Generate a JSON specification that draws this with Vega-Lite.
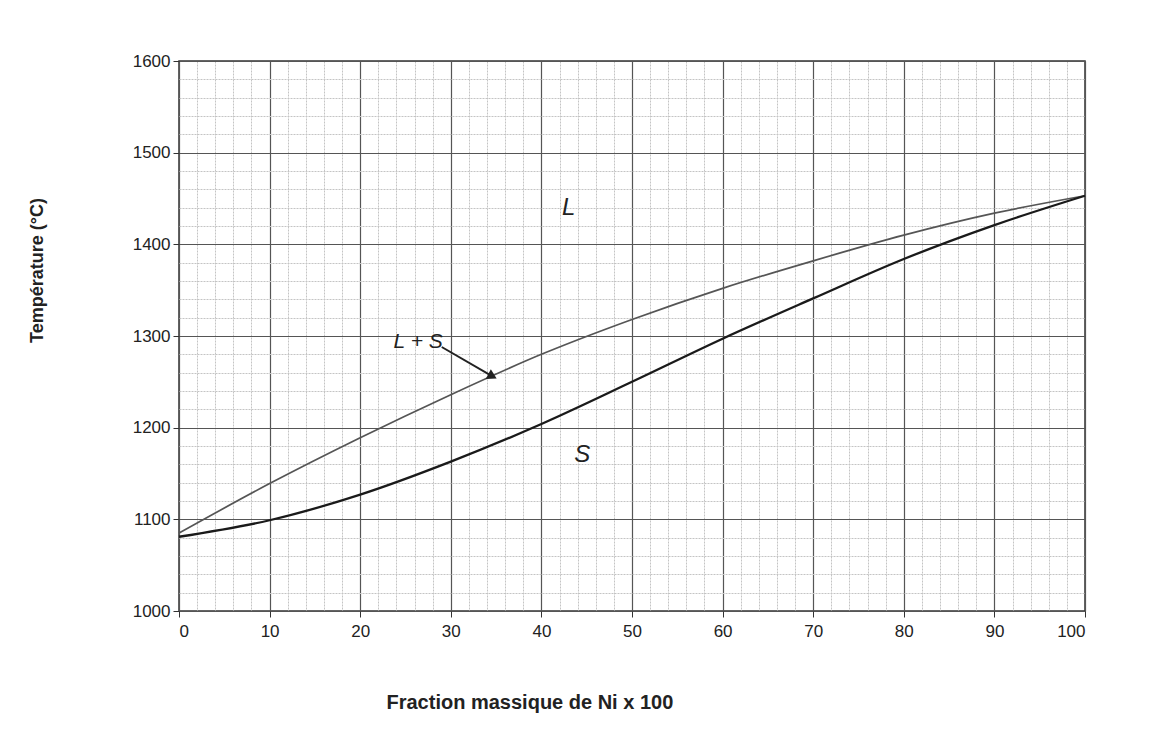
{
  "$schema": "https://vega.github.io/schema/vega-lite/v6.json",
  "autosize": "none",
  "width": 906,
  "height": 550,
  "padding": {"left": 179, "top": 61, "right": 65, "bottom": 144},
  "background": "white",
  "config": {
    "font": "Liberation Sans",
    "view": {"stroke": "#333", "strokeWidth": 1.5}
  },
  "datasets": {
    "curves": [
      {"x": 0, "T": 1085, "curve": "liquidus"},
      {"x": 10, "T": 1139, "curve": "liquidus"},
      {"x": 20, "T": 1189, "curve": "liquidus"},
      {"x": 30, "T": 1236, "curve": "liquidus"},
      {"x": 40, "T": 1280, "curve": "liquidus"},
      {"x": 50, "T": 1318, "curve": "liquidus"},
      {"x": 60, "T": 1352, "curve": "liquidus"},
      {"x": 70, "T": 1382, "curve": "liquidus"},
      {"x": 80, "T": 1410, "curve": "liquidus"},
      {"x": 90, "T": 1434, "curve": "liquidus"},
      {"x": 100, "T": 1453, "curve": "liquidus"},
      {"x": 0, "T": 1081, "curve": "solidus"},
      {"x": 10, "T": 1099, "curve": "solidus"},
      {"x": 20, "T": 1127, "curve": "solidus"},
      {"x": 30, "T": 1163, "curve": "solidus"},
      {"x": 40, "T": 1204, "curve": "solidus"},
      {"x": 50, "T": 1250, "curve": "solidus"},
      {"x": 60, "T": 1297, "curve": "solidus"},
      {"x": 70, "T": 1341, "curve": "solidus"},
      {"x": 80, "T": 1384, "curve": "solidus"},
      {"x": 90, "T": 1421, "curve": "solidus"},
      {"x": 100, "T": 1453, "curve": "solidus"}
    ],
    "labels": [
      {"x": 43, "T": 1440, "text": "L", "size": 24},
      {"x": 44.5, "T": 1170, "text": "S", "size": 24},
      {"x": 26.4, "T": 1293, "text": "L + S", "size": 21}
    ],
    "arrow": [
      {"x": 29.0, "T": 1288, "x2": 34.6, "T2": 1256}
    ]
  },
  "layer": [
    {
      "data": {"name": "curves"},
      "transform": [{"filter": "datum.curve === 'liquidus'"}],
      "mark": {"type": "line", "interpolate": "monotone", "color": "#555", "strokeWidth": 1.7},
      "encoding": {
        "x": {
          "field": "x", "type": "quantitative",
          "scale": {"domain": [0, 100], "nice": false},
          "axis": {
            "orient": "bottom", "values": [2,4,6,8,12,14,16,18,22,24,26,28,32,34,36,38,42,44,46,48,52,54,56,58,62,64,66,68,72,74,76,78,82,84,86,88,92,94,96,98],
            "grid": true, "gridColor": "#c4c4c4", "gridDash": [2, 1], "gridWidth": 1,
            "labels": false, "ticks": false, "domain": false, "title": null
          }
        },
        "y": {
          "field": "T", "type": "quantitative",
          "scale": {"domain": [1000, 1600], "nice": false, "zero": false},
          "axis": {
            "orient": "left", "values": [1020,1040,1060,1080,1120,1140,1160,1180,1220,1240,1260,1280,1320,1340,1360,1380,1420,1440,1460,1480,1520,1540,1560,1580],
            "grid": true, "gridColor": "#c4c4c4", "gridDash": [2, 1], "gridWidth": 1,
            "labels": false, "ticks": false, "domain": false, "title": null
          }
        }
      }
    },
    {
      "data": {"name": "curves"},
      "transform": [{"filter": "datum.curve === 'solidus'"}],
      "mark": {"type": "line", "interpolate": "monotone", "color": "#1a1a1a", "strokeWidth": 2.3},
      "encoding": {
        "x": {
          "field": "x", "type": "quantitative",
          "axis": {
            "orient": "bottom", "values": [0,10,20,30,40,50,60,70,80,90,100], "format": "d",
            "grid": true, "gridColor": "#555", "gridWidth": 1.2,
            "domain": false, "ticks": true, "tickSize": 6, "tickColor": "#333",
            "labelFontSize": 17, "labelColor": "#222", "labelPadding": 6,
            "title": "Fraction massique de Ni x 100",
            "titleFontSize": 20, "titleFontWeight": "bold", "titleColor": "#222",
            "titleAnchor": "start", "titleAlign": "left", "titleX": 207, "titleY": 91, "titleBaseline": "middle"
          }
        },
        "y": {
          "field": "T", "type": "quantitative",
          "axis": {
            "orient": "left", "values": [1000,1100,1200,1300,1400,1500,1600], "format": "d",
            "grid": true, "gridColor": "#555", "gridWidth": 1.2,
            "domain": false, "ticks": true, "tickSize": 6, "tickColor": "#333",
            "labelFontSize": 17, "labelColor": "#222", "labelPadding": 3,
            "title": "Température (°C)",
            "titleFontSize": 18, "titleFontWeight": "bold", "titleColor": "#222",
            "titleAnchor": "start", "titleAlign": "center", "titleX": -142, "titleY": 209, "titleBaseline": "middle"
          }
        }
      }
    },
    {
      "data": {"name": "labels"},
      "mark": {"type": "text", "fontStyle": "italic", "color": "#222", "align": "center", "baseline": "middle"},
      "encoding": {
        "x": {"field": "x", "type": "quantitative", "axis": null},
        "y": {"field": "T", "type": "quantitative", "axis": null},
        "text": {"field": "text"},
        "size": {"field": "size", "type": "quantitative", "scale": null, "legend": null}
      }
    },
    {
      "data": {"name": "arrow"},
      "mark": {"type": "rule", "color": "#222", "strokeWidth": 2},
      "encoding": {
        "x": {"field": "x", "type": "quantitative", "axis": null},
        "y": {"field": "T", "type": "quantitative", "axis": null},
        "x2": {"field": "x2"},
        "y2": {"field": "T2"}
      }
    },
    {
      "data": {"name": "arrow"},
      "mark": {"type": "point", "shape": "triangle-right", "filled": true, "color": "#222", "size": 120, "angle": 28, "opacity": 1},
      "encoding": {
        "x": {"field": "x2", "type": "quantitative", "axis": null},
        "y": {"field": "T2", "type": "quantitative", "axis": null}
      }
    }
  ],
  "resolve": {"axis": {"x": "independent", "y": "independent"}}
}
